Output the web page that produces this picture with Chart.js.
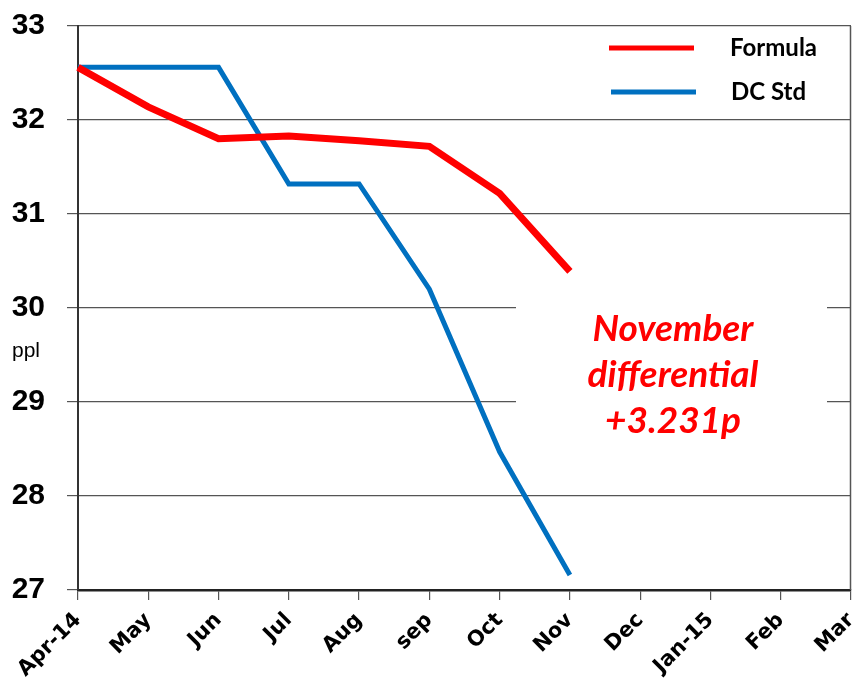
<!DOCTYPE html>
<html>
<head>
<meta charset="utf-8">
<script src="https://cdn.jsdelivr.net/npm/chart.js@4"></script>
<style>
  html, body { margin: 0; padding: 0; background: #fff; }
  #wrap { width: 857px; height: 684px; }
</style>
</head>
<body>
<div id="wrap"><canvas id="chartCanvas" width="857" height="684"></canvas></div>
<script>
// --- data ---
const months = ["Apr-14", "May", "Jun", "Jul", "Aug", "sep", "Oct", "Nov", "Dec", "Jan-15", "Feb", "Mar"];
const formula = [32.56, 32.14, 31.80, 31.83, 31.78, 31.72, 31.22, 30.39, null, null, null, null];
const dcStd = [32.56, 32.56, 32.56, 31.32, 31.32, 30.20, 28.47, 27.16, null, null, null, null];
const legendNames = ["Formula", "DC Std"];
const noteLines = ["November", "differential", "+3.231p"];

const RED = "#ff0000";
const BLUE = "#0070c0";
const GRID = "#555555";

// right border, "ppl" label, legend and the note box
const extras = {
  id: "extras",
  afterDraw(chart) {
    const { ctx, chartArea: a } = chart;
    ctx.save();

    // right frame line
    ctx.strokeStyle = GRID;
    ctx.lineWidth = 1.5;
    ctx.beginPath();
    ctx.moveTo(a.right - 0.5, a.top);
    ctx.lineTo(a.right - 0.5, a.bottom);
    ctx.stroke();

    // unit label
    ctx.fillStyle = "#000";
    ctx.font = "21px 'Liberation Sans', Arial, sans-serif";
    ctx.textAlign = "left";
    ctx.textBaseline = "middle";
    ctx.fillText("ppl", 12, 351);

    // legend
    const colors = [RED, BLUE];
    const ys = [48, 92];
    ctx.lineWidth = 5;
    ys.forEach((y, i) => {
      ctx.strokeStyle = colors[i];
      ctx.beginPath();
      ctx.moveTo(609 + i * 2, y);
      ctx.lineTo(694 + i * 2, y);
      ctx.stroke();
    });
    ctx.fillStyle = "#000";
    ctx.font = "bold 24px Lato, 'Open Sans', sans-serif";
    ctx.textAlign = "left";
    ctx.fillText(legendNames[0], 730, ys[0]);
    ctx.fillText(legendNames[1], 731, ys[1]);

    // note box covering the grid
    ctx.fillStyle = "#fff";
    ctx.fillRect(516, 296, 311, 140);
    ctx.fillStyle = RED;
    ctx.font = "italic bold 37px Lato, 'Open Sans', sans-serif";
    ctx.textAlign = "center";
    noteLines.forEach((t, i) => ctx.fillText(t, 673, 329 + i * 46));

    ctx.restore();
  }
};

new Chart(document.getElementById("chartCanvas"), {
  type: "line",
  data: {
    labels: months,
    datasets: [
      { label: legendNames[0], data: formula, borderColor: RED, borderWidth: 7, pointRadius: 0, tension: 0, spanGaps: false },
      { label: legendNames[1], data: dcStd, borderColor: BLUE, borderWidth: 5, pointRadius: 0, tension: 0, spanGaps: false }
    ]
  },
  options: {
    responsive: false,
    animation: false,
    layout: { padding: { top: 26, right: 6, left: 0, bottom: 0 } },
    plugins: { legend: { display: false }, tooltip: { enabled: false } },
    scales: {
      x: {
        offset: false,
        afterFit: s => { s.height = 94; s.paddingLeft = 0; s.paddingRight = 0; },
        grid: { drawOnChartArea: false, color: GRID, tickLength: 10, lineWidth: 1.2 },
        border: { color: "#222", width: 2.5 },
        ticks: {
          color: "#000",
          maxRotation: 45, minRotation: 45,
          autoSkip: false,
          padding: 8,
          font: { family: "'DejaVu Sans', sans-serif", weight: "bold", size: 21 }
        }
      },
      y: {
        min: 27, max: 33,
        afterFit: s => { s.width = 78; s.paddingTop = 0; s.paddingBottom = 0; },
        grid: { color: GRID, lineWidth: 1.2, tickLength: 11 },
        border: { color: "#333", width: 2 },
        ticks: {
          stepSize: 1,
          color: "#000",
          padding: 22,
          font: { family: "'Liberation Sans', Arial, sans-serif", weight: "bold", size: 30 }
        }
      }
    }
  },
  plugins: [extras]
});
</script>
</body>
</html>
